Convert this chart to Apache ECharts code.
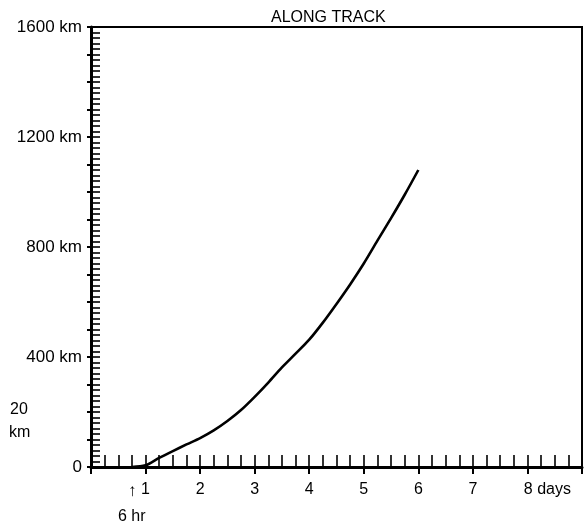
<!DOCTYPE html>
<html>
<head>
<meta charset="utf-8">
<script src="https://cdn.jsdelivr.net/npm/echarts@6/dist/echarts.min.js"></script>
<style>
  html, body { margin: 0; padding: 0; background: #fff; }
  #chart { width: 585px; height: 529px; }
</style>
</head>
<body>
<div id="chart"></div>
<script>
// Data (days vs along-track distance in km)
const days = [0.75, 1, 1.25, 1.5, 1.75, 2, 2.25, 2.5, 2.75, 3, 3.25, 3.5, 3.75, 4, 4.25, 4.5, 4.75, 5, 5.25, 5.5, 5.75, 6];
const alongTrackKm = [0, 6, 33, 58, 82, 105, 133, 167, 207, 255, 307, 362, 412, 463, 525, 593, 664, 740, 823, 905, 990, 1080];
const xTickLabels = ['', '1', '2', '3', '4', '5', '6', '7', '8 days', ''];
const yTickLabels = { 0: '0', 400: '400 km', 800: '800 km', 1200: '1200 km', 1600: '1600 km' };

const FONT = '"Liberation Sans", Arial, sans-serif';
const chart = echarts.init(document.getElementById('chart'), null, { renderer: 'canvas' });

const seriesData = days.map((d, i) => [d, alongTrackKm[i]]);

chart.setOption({
  animation: false,
  backgroundColor: '#fff',
  title: {
    text: 'ALONG TRACK',
    left: 266, top: 5,
    textStyle: { fontFamily: FONT, fontSize: 16, fontWeight: 'normal', color: '#000' }
  },
  grid: { left: 91, right: 3, top: 27, bottom: 62, show: true, borderColor: '#000', borderWidth: 2, backgroundColor: 'transparent' },
  xAxis: [
    {
      type: 'value', min: 0, max: 9, interval: 1, position: 'bottom',
      splitLine: { show: false },
      axisLine: { show: true, lineStyle: { color: '#000', width: 3 } },
      axisTick: { show: true, inside: false, length: 7, lineStyle: { color: '#000', width: 2 } },
      axisLabel: {
        color: '#000', fontFamily: FONT, fontSize: 16, margin: 15,
        formatter: v => {
          const t = xTickLabels[Math.round(v)] || '';
          if (t.indexOf('days') >= 0) return '{d|' + t + '}';
          return t;
        },
        rich: { d: { color: '#000', fontFamily: FONT, fontSize: 16, padding: [0, 0, 0, 40] } }
      }
    },
    {
      type: 'value', min: 0, max: 9, interval: 0.25, position: 'bottom',
      splitLine: { show: false },
      axisLine: { show: false },
      axisTick: { show: true, inside: true, length: 12, lineStyle: { color: '#000', width: 1.6 } },
      axisLabel: { show: false }
    }
  ],
  yAxis: [
    {
      type: 'value', min: 0, max: 1600, interval: 100, position: 'left',
      splitLine: { show: false },
      axisLine: { show: true, lineStyle: { color: '#000', width: 3 } },
      axisTick: { show: true, inside: true, length: 9, lineStyle: { color: '#000', width: 1.6 } },
      minorTick: { show: true, splitNumber: 5, length: 9, lineStyle: { color: '#000', width: 1.6 } },
      axisLabel: {
        color: '#000', fontFamily: FONT, fontSize: 17, margin: 9,
        formatter: v => (yTickLabels[v] !== undefined ? yTickLabels[v] : '')
      }
    },
    {
      type: 'value', min: 0, max: 1600, interval: 100, position: 'left',
      splitLine: { show: false },
      axisLine: { show: false },
      axisTick: { show: true, inside: false, length: 4, lineStyle: { color: '#000', width: 2 } },
      axisLabel: { show: false }
    }
  ],
  graphic: [
    { type: 'text', left: 10, top: 402, style: { text: '20', font: '16px ' + FONT, fill: '#000' } },
    { type: 'text', left: 9, top: 425, style: { text: 'km', font: '16px ' + FONT, fill: '#000' } },
    { type: 'text', left: 128, top: 483, style: { text: '↑', font: 'bold 17px ' + FONT, fill: '#000' } },
    { type: 'text', left: 118, top: 509, style: { text: '6 hr', font: '16px ' + FONT, fill: '#000' } }
  ],
  series: [
    {
      type: 'line', xAxisIndex: 0, yAxisIndex: 0,
      data: seriesData, smooth: 0.3, symbol: 'none',
      lineStyle: { color: '#000', width: 2.6 }
    }
  ]
});
</script>
</body>
</html>
